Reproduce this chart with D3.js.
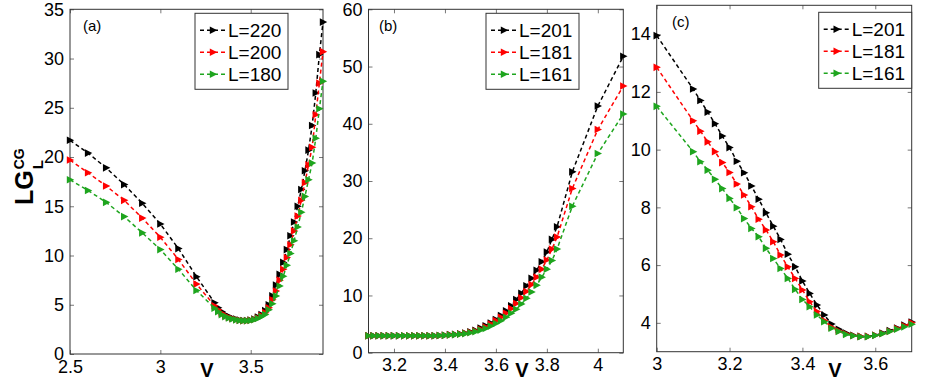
<!DOCTYPE html>
<html>
<head>
<meta charset="utf-8">
<script src="https://cdn.jsdelivr.net/npm/d3@7"></script>
<style>
	body { margin: 0; background: #fff; }
	svg text { font-family: "Liberation Sans", Arial, Helvetica, sans-serif; }
</style>
</head>
<body>
<svg id="chart" width="926" height="382"></svg>
<script>
// panel (a): V against LG_L^CG for L = 220, 200, 180
const vA = [2.5, 2.6, 2.7, 2.8, 2.9, 3.0, 3.1, 3.2, 3.3, 3.32, 3.34, 3.36, 3.38, 3.4, 3.42, 3.44, 3.46, 3.48, 3.5, 3.52, 3.54, 3.56, 3.58, 3.6, 3.62, 3.64, 3.66, 3.68, 3.7, 3.72, 3.74, 3.76, 3.78, 3.8, 3.82, 3.84, 3.86, 3.88, 3.9]
const aL220 = [21.7, 20.4, 18.9, 17.2, 15.3, 13.2, 10.7, 7.85, 5.2, 4.7, 4.3, 4.0, 3.8, 3.65, 3.55, 3.45, 3.4, 3.4, 3.45, 3.55, 3.75, 4.0, 4.4, 5.0, 5.9, 7.0, 8.1, 9.3, 10.6, 12.0, 13.4, 15.0, 16.7, 18.6, 20.7, 23.2, 26.5, 30.4, 33.7]
const aL200 = [19.7, 18.4, 17.06, 15.6, 13.8, 11.85, 9.6, 7.1, 4.9, 4.5, 4.15, 3.9, 3.7, 3.6, 3.5, 3.42, 3.38, 3.38, 3.42, 3.5, 3.65, 3.9, 4.2, 4.7, 5.5, 6.4, 7.5, 8.6, 9.8, 11.1, 12.5, 14.0, 15.6, 17.4, 19.2, 21.0, 24.3, 27.5, 30.7]
const aL180 = [17.7, 16.6, 15.4, 13.95, 12.3, 10.6, 8.6, 6.45, 4.65, 4.3, 4.0, 3.8, 3.65, 3.55, 3.47, 3.4, 3.37, 3.37, 3.4, 3.48, 3.6, 3.8, 4.0, 4.5, 5.1, 5.9, 6.9, 7.9, 9.0, 10.2, 11.5, 12.9, 14.4, 16.0, 17.7, 19.4, 21.9, 24.9, 27.7]

// panel (b): L = 201, 181, 161
const vB = [3.1, 3.12, 3.14, 3.16, 3.18, 3.2, 3.22, 3.24, 3.26, 3.28, 3.3, 3.32, 3.34, 3.36, 3.38, 3.4, 3.42, 3.44, 3.46, 3.48, 3.5, 3.52, 3.54, 3.56, 3.58, 3.6, 3.62, 3.64, 3.66, 3.68, 3.7, 3.72, 3.74, 3.76, 3.78, 3.8, 3.82, 3.84, 3.9, 4.0, 4.1]
const bL201 = [2.95, 2.95, 2.95, 2.95, 2.95, 2.95, 2.95, 2.95, 2.95, 2.95, 2.95, 2.95, 2.95, 2.97, 3.0, 3.05, 3.15, 3.2, 3.3, 3.45, 3.65, 3.9, 4.3, 4.7, 5.2, 5.8, 6.5, 7.3, 8.2, 9.3, 10.4, 11.7, 13.0, 14.4, 15.9, 17.6, 19.8, 22.0, 31.6, 43.1, 51.8]
const bL181 = [2.95, 2.95, 2.95, 2.95, 2.95, 2.95, 2.95, 2.95, 2.95, 2.95, 2.95, 2.95, 2.95, 2.97, 3.0, 3.04, 3.12, 3.18, 3.27, 3.4, 3.57, 3.8, 4.1, 4.5, 5.0, 5.6, 6.2, 6.9, 7.7, 8.6, 9.6, 10.7, 11.9, 13.2, 14.6, 16.2, 18.1, 20.2, 28.7, 39.0, 46.6]
const bL161 = [2.95, 2.95, 2.95, 2.95, 2.95, 2.95, 2.95, 2.95, 2.95, 2.95, 2.95, 2.95, 2.95, 2.97, 3.0, 3.03, 3.1, 3.15, 3.22, 3.33, 3.48, 3.68, 3.95, 4.25, 4.65, 5.1, 5.6, 6.2, 6.9, 7.6, 8.5, 9.5, 10.6, 11.8, 13.2, 14.6, 16.1, 18.1, 25.6, 34.8, 41.7]

// panel (c): L = 201, 181, 161
const vC = [3.0, 3.1, 3.12, 3.14, 3.16, 3.18, 3.2, 3.22, 3.24, 3.26, 3.28, 3.3, 3.32, 3.34, 3.36, 3.38, 3.4, 3.42, 3.44, 3.46, 3.48, 3.5, 3.52, 3.54, 3.56, 3.58, 3.6, 3.62, 3.64, 3.66, 3.68, 3.7]
const cL201 = [13.95, 12.1, 11.7, 11.3, 10.9, 10.47, 10.07, 9.6, 9.2, 8.74, 8.28, 7.81, 7.35, 6.89, 6.38, 5.94, 5.45, 5.02, 4.62, 4.27, 3.96, 3.78, 3.65, 3.57, 3.53, 3.53, 3.57, 3.65, 3.73, 3.82, 3.92, 4.03]
const cL181 = [12.85, 11.0, 10.64, 10.27, 9.93, 9.55, 9.21, 8.81, 8.43, 8.02, 7.59, 7.22, 6.81, 6.35, 5.94, 5.54, 5.14, 4.73, 4.39, 4.08, 3.85, 3.72, 3.62, 3.56, 3.53, 3.53, 3.57, 3.63, 3.71, 3.8, 3.9, 4.0]
const cL161 = [11.5, 9.93, 9.58, 9.29, 8.97, 8.65, 8.31, 7.99, 7.61, 7.27, 6.98, 6.58, 6.23, 5.88, 5.54, 5.16, 4.81, 4.56, 4.27, 4.04, 3.81, 3.7, 3.6, 3.55, 3.52, 3.52, 3.56, 3.62, 3.7, 3.78, 3.86, 3.95]

// ticks
const xTicksA = [2.5, 3, 3.5]
const yTicksA = [0, 5, 10, 15, 20, 25, 30, 35]
const xTicksB = [3.2, 3.4, 3.6, 3.8, 4]
const yTicksB = [0, 10, 20, 30, 40, 50, 60]
const xTicksC = [3, 3.2, 3.4, 3.6]
const yTicksC = [4, 6, 8, 10, 12, 14]

const colours = { black: "#000000", red: "#ff0000", green: "#1ea51e" }

const svg = d3.select("#chart")

// right-pointing triangle marker, like MATLAB's '>'
const triangle = "M-3.2,-3.8L4.2,0L-3.2,3.8Z"

function drawPanel(p) {
	const g = svg.append("g").attr("class", "panel")
	const x = d3.scaleLinear().domain(p.xDomain).range([p.left, p.right])
	const y = d3.scaleLinear().domain(p.yDomain).range([p.bottom, p.top])
	const fmt = d3.format("")

	// inward ticks on all four sides, labels only bottom and left
	const axes = [
		[d3.axisBottom(x).tickValues(p.xTicks).tickFormat(fmt), `translate(0,${p.bottom})`, true],
		[d3.axisTop(x).tickValues(p.xTicks).tickFormat(""), `translate(0,${p.top})`, false],
		[d3.axisLeft(y).tickValues(p.yTicks).tickFormat(fmt), `translate(${p.left},0)`, true],
		[d3.axisRight(y).tickValues(p.yTicks).tickFormat(""), `translate(${p.right},0)`, false],
	]
	axes.forEach(([axis, tr, labelled]) => {
		const a = g.append("g")
			.attr("transform", tr)
			.call(axis.tickSize(-4).tickPadding(labelled ? 6 : 0))
		a.select(".domain").remove()
		a.selectAll("line").attr("stroke", "#777")
		a.selectAll("text").attr("font-size", 18).attr("fill", "#000")
	})

	g.append("rect")
		.attr("x", p.left)
		.attr("y", p.top)
		.attr("width", p.right - p.left)
		.attr("height", p.bottom - p.top)
		.attr("fill", "none")
		.attr("stroke", "#333")
		.attr("stroke-width", 1)

	const line = d3.line().x((d) => x(d[0])).y((d) => y(d[1]))

	p.series.forEach((s) => {
		const pts = p.v.map((v, i) => [v, s.values[i]])
		g.append("path")
			.attr("d", line(pts))
			.attr("fill", "none")
			.attr("stroke", s.colour)
			.attr("stroke-width", 1.5)
			.attr("stroke-dasharray", "4,3")
		g.selectAll(null)
			.data(pts)
			.enter()
			.append("path")
			.attr("d", triangle)
			.attr("transform", (d) => `translate(${x(d[0])},${y(d[1])})`)
			.attr("fill", s.colour)
	})

	// panel tag
	g.append("text")
		.attr("x", p.tag[1])
		.attr("y", p.tag[2])
		.attr("font-size", 15)
		.text(p.tag[0])

	// legend
	const lg = g.append("g").attr("transform", `translate(${p.legend[0]},${p.legend[1]})`)
	lg.append("rect")
		.attr("width", 93)
		.attr("height", 76)
		.attr("fill", "#fff")
		.attr("stroke", "#333")
	p.series.forEach((s, i) => {
		const ry = 17 + i * 22
		lg.append("line")
			.attr("x1", 5).attr("x2", 31)
			.attr("y1", ry).attr("y2", ry)
			.attr("stroke", s.colour)
			.attr("stroke-width", 1.5)
			.attr("stroke-dasharray", "4,3")
		lg.append("path")
			.attr("d", triangle)
			.attr("transform", `translate(18,${ry})`)
			.attr("fill", s.colour)
		lg.append("text")
			.attr("x", 33)
			.attr("y", ry + 7)
			.attr("font-size", 19)
			.text(s.name)
	})

	// x label, low between the tick labels as in the source figure
	g.append("text")
		.attr("x", p.vLabel)
		.attr("y", 377)
		.attr("text-anchor", "middle")
		.attr("font-size", 20)
		.attr("font-weight", "bold")
		.text("V")
}

drawPanel({
	left: 70, right: 323, top: 9.3, bottom: 354,
	xDomain: [2.5, 3.9], yDomain: [0, 35],
	xTicks: xTicksA, yTicks: yTicksA, v: vA,
	series: [
		{ name: "L=220", values: aL220, colour: colours.black },
		{ name: "L=200", values: aL200, colour: colours.red },
		{ name: "L=180", values: aL180, colour: colours.green },
	],
	tag: ["(a)", 83, 31], legend: [195, 13.3], vLabel: 207,
})

drawPanel({
	left: 368.5, right: 623.3, top: 9.3, bottom: 352.7,
	xDomain: [3.1, 4.1], yDomain: [0, 60],
	xTicks: xTicksB, yTicks: yTicksB, v: vB,
	series: [
		{ name: "L=201", values: bL201, colour: colours.black },
		{ name: "L=181", values: bL181, colour: colours.red },
		{ name: "L=161", values: bL161, colour: colours.green },
	],
	tag: ["(b)", 379, 31], legend: [486, 13.3], vLabel: 522,
})

drawPanel({
	left: 656.7, right: 911.7, top: 5.3, bottom: 351.7,
	xDomain: [3, 3.7], yDomain: [3, 15],
	xTicks: xTicksC, yTicks: yTicksC, v: vC,
	series: [
		{ name: "L=201", values: cL201, colour: colours.black },
		{ name: "L=181", values: cL181, colour: colours.red },
		{ name: "L=161", values: cL161, colour: colours.green },
	],
	tag: ["(c)", 672, 27], legend: [818.7, 12.3], vLabel: 835,
})

// y label LG_L^CG, rotated
const yl = svg.append("g").attr("transform", "translate(33,205) rotate(-90)")
const main = yl.append("text")
	.attr("font-size", 25)
	.attr("font-weight", "bold")
	.text("LG")
const w = main.node().getComputedTextLength()
yl.append("text")
	.attr("x", w + 1).attr("y", 10)
	.attr("font-size", 15)
	.attr("font-weight", "bold")
	.text("L")
yl.append("text")
	.attr("x", w + 1).attr("y", -9)
	.attr("font-size", 14)
	.attr("font-weight", "bold")
	.text("CG")
</script>
</body>
</html>
